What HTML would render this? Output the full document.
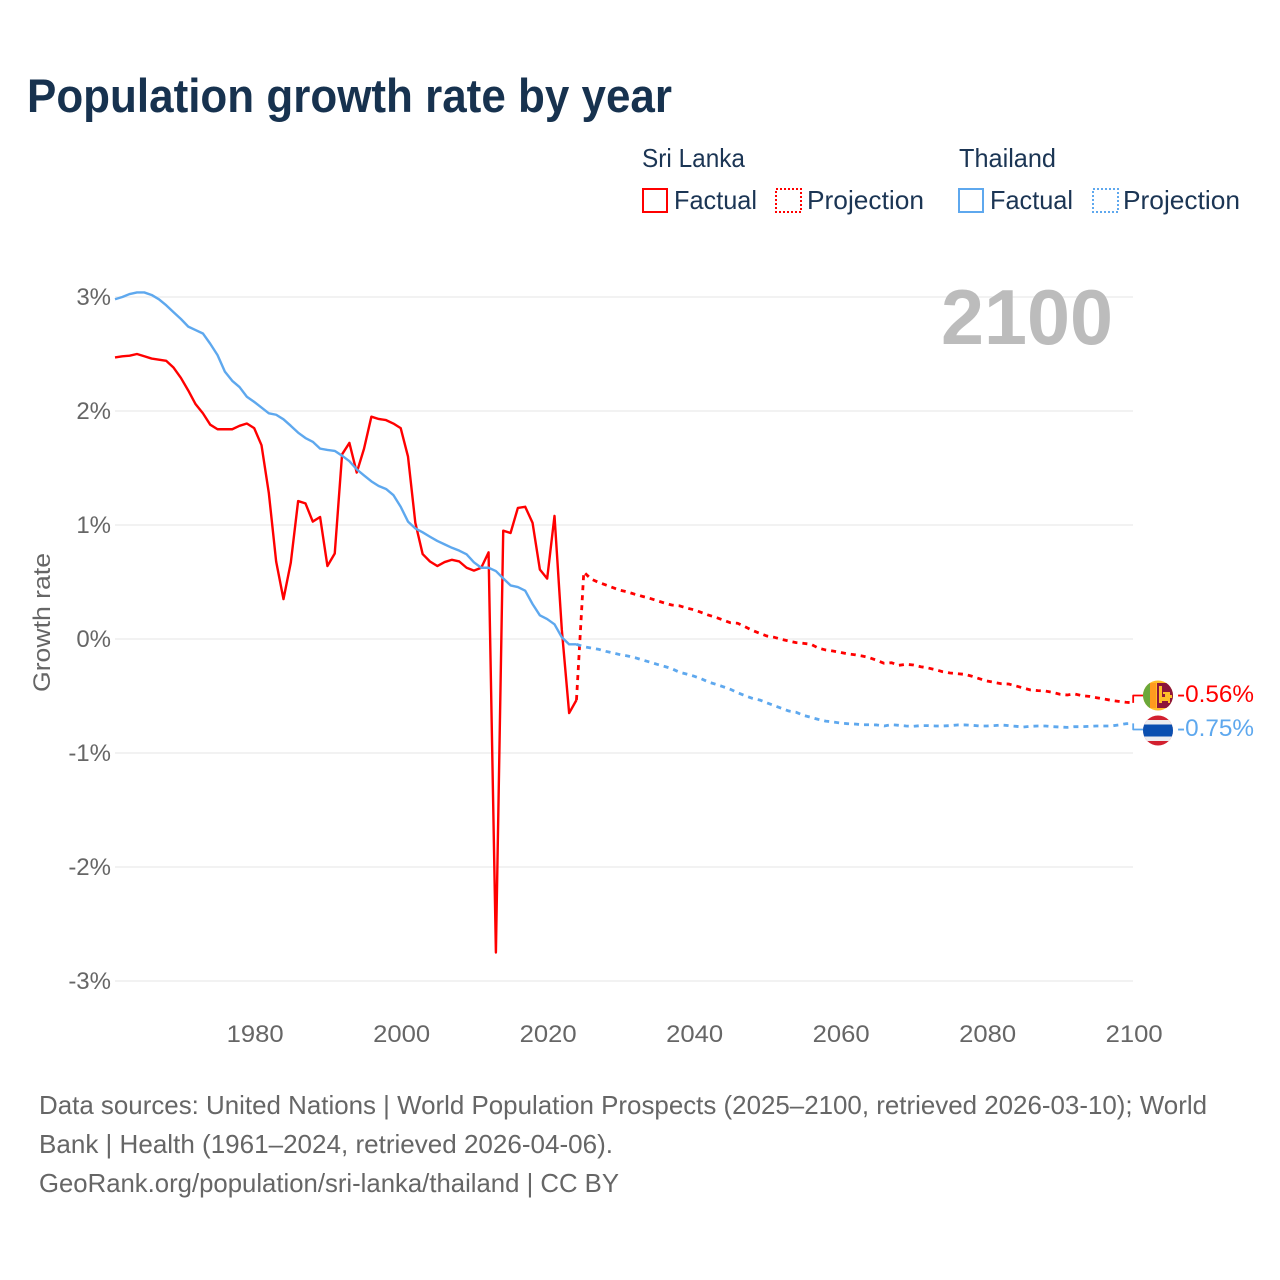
<!DOCTYPE html>
<html lang="en">
<head>
<meta charset="utf-8">
<title>Population growth rate by year</title>
<style>
html,body{margin:0;padding:0;background:#fff;}
svg{display:block;font-family:"Liberation Sans",Arial,sans-serif;}
</style>
</head>
<body>
<svg id="chart" xmlns="http://www.w3.org/2000/svg" width="1280" height="1280" viewBox="0 0 1280 1280">
  <rect x="0" y="0" width="1280" height="1280" fill="#fff"/>
  <text x="27" y="112" font-size="47" font-weight="700" fill="#17324f" textLength="645" lengthAdjust="spacingAndGlyphs">Population growth rate by year</text>

  <text x="642" y="167" font-size="26" fill="#1b3554" textLength="103" lengthAdjust="spacingAndGlyphs">Sri Lanka</text>
  <text x="959" y="167" font-size="26" fill="#1b3554" textLength="97" lengthAdjust="spacingAndGlyphs">Thailand</text>
  <rect x="643" y="189" width="24" height="23" fill="none" stroke="#ff0000" stroke-width="2"/>
  <text x="674" y="209" font-size="26" fill="#1b3554" textLength="83" lengthAdjust="spacingAndGlyphs">Factual</text>
  <rect x="776" y="189" width="25" height="23" fill="none" stroke="#ff0000" stroke-width="2" stroke-dasharray="2 2"/>
  <text x="807" y="209" font-size="26" fill="#1b3554" textLength="117" lengthAdjust="spacingAndGlyphs">Projection</text>
  <rect x="959" y="189" width="24" height="23" fill="none" stroke="#5ea8ee" stroke-width="2"/>
  <text x="990" y="209" font-size="26" fill="#1b3554" textLength="83" lengthAdjust="spacingAndGlyphs">Factual</text>
  <rect x="1093" y="189" width="25" height="23" fill="none" stroke="#5ea8ee" stroke-width="2" stroke-dasharray="2 2"/>
  <text x="1123" y="209" font-size="26" fill="#1b3554" textLength="117" lengthAdjust="spacingAndGlyphs">Projection</text>

  <text transform="translate(50,692) rotate(-90)" x="0" y="0" font-size="24" fill="#666" textLength="139" lengthAdjust="spacingAndGlyphs">Growth rate</text>

  <g id="grid"></g>
  <g id="yticks"></g>
  <g id="xticks"></g>

  <text x="941" y="344" font-size="78" font-weight="700" fill="#bcbcbc" textLength="172" lengthAdjust="spacingAndGlyphs">2100</text>

  <g id="series"></g>

  <defs>
    <clipPath id="flag-clip-lk"><circle cx="1158" cy="695.5" r="15"/></clipPath>
    <clipPath id="flag-clip-th"><circle cx="1158" cy="730.5" r="15"/></clipPath>
  </defs>
  <g clip-path="url(#flag-clip-lk)">
    <rect x="1143" y="680" width="30" height="31" fill="#ffbe29"/>
    <rect x="1143" y="683" width="7" height="25" fill="#6ba83a"/>
    <rect x="1150" y="683" width="6" height="25" fill="#ff9a1f"/>
    <rect x="1157" y="683" width="16" height="25" fill="#8d153a"/>
    <path d="M1159 686h3v11h3v-3h-2v-2h7v3h2v3h-2v5h-2v-2h-6v2h-3z" fill="#ffbe29"/>
  </g>
  <g clip-path="url(#flag-clip-th)">
    <rect x="1143" y="715" width="30" height="31" fill="#d2202f"/>
    <rect x="1143" y="720" width="30" height="21" fill="#ecedf0"/>
    <rect x="1143" y="724.5" width="30" height="12" fill="#0b4fb0"/>
  </g>
  <text id="label-lk" x="1177" y="702" font-size="24" fill="#ff0000" textLength="77" lengthAdjust="spacingAndGlyphs"></text>
  <text id="label-th" x="1177" y="736" font-size="24" fill="#5ea8ee" textLength="77" lengthAdjust="spacingAndGlyphs"></text>

  <g font-size="26" fill="#666">
    <text x="39" y="1114" textLength="1168" lengthAdjust="spacingAndGlyphs">Data sources: United Nations | World Population Prospects (2025–2100, retrieved 2026-03-10); World</text>
    <text x="39" y="1153" textLength="574" lengthAdjust="spacingAndGlyphs">Bank | Health (1961–2024, retrieved 2026-04-06).</text>
    <text x="39" y="1192" textLength="580" lengthAdjust="spacingAndGlyphs">GeoRank.org/population/sri-lanka/thailand | CC BY</text>
  </g>
</svg>
<script>
const yTickValues = [3, 2, 1, 0, -1, -2, -3];
const xTickValues = [1980, 2000, 2020, 2040, 2060, 2080, 2100];
const factualStartYear = 1961;
const projectionStartYear = 2024;
const sriLankaFactual = [
  2.47,2.48,2.485,2.50,2.48,2.46,2.45,2.44,2.38,2.29,
  2.18,2.06,1.98,1.88,1.84,1.84,1.84,1.87,1.89,1.85,
  1.70,1.28,0.68,0.35,0.67,1.21,1.19,1.03,1.07,0.64,
  0.75,1.62,1.72,1.46,1.67,1.95,1.93,1.92,1.89,1.85,
  1.60,1.02,0.745,0.68,0.64,0.675,0.695,0.68,0.625,0.60,
  0.625,0.76,-2.75,0.95,0.93,1.15,1.16,1.02,0.61,0.53,
  1.08,0.08,-0.65,-0.535
];
const thailandFactual = [
  2.98,3.00,3.026,3.04,3.04,3.018,2.98,2.927,2.866,2.807,
  2.74,2.71,2.68,2.59,2.49,2.345,2.265,2.21,2.125,2.08,
  2.03,1.98,1.967,1.927,1.87,1.81,1.763,1.73,1.67,1.658,
  1.65,1.608,1.56,1.488,1.435,1.383,1.342,1.316,1.263,1.16,
  1.03,0.97,0.936,0.897,0.86,0.83,0.80,0.775,0.743,0.673,
  0.625,0.625,0.596,0.532,0.47,0.456,0.424,0.307,0.208,0.175,
  0.129,0.015,-0.047,-0.047
];
const sriLankaProjection = [
  -0.535,0.587,0.526,0.497,0.474,0.45,0.427,0.412,0.392,0.374,
  0.357,0.336,0.316,0.298,0.292,0.272,0.257,0.234,0.21,0.19,
  0.167,0.143,0.138,0.108,0.076,0.05,0.026,0.015,-0.003,-0.018,
  -0.032,-0.038,-0.046,-0.079,-0.096,-0.105,-0.117,-0.13,-0.138,-0.149,
  -0.164,-0.187,-0.213,-0.208,-0.231,-0.222,-0.228,-0.243,-0.254,-0.269,
  -0.287,-0.298,-0.304,-0.31,-0.327,-0.348,-0.368,-0.38,-0.392,-0.395,
  -0.412,-0.43,-0.447,-0.453,-0.456,-0.468,-0.485,-0.491,-0.482,-0.497,
  -0.503,-0.515,-0.526,-0.538,-0.547,-0.555,-0.56
];
const thailandProjection = [
  -0.047,-0.067,-0.079,-0.09,-0.108,-0.123,-0.138,-0.149,-0.164,-0.184,
  -0.202,-0.222,-0.24,-0.26,-0.29,-0.307,-0.325,-0.348,-0.377,-0.397,
  -0.418,-0.441,-0.471,-0.497,-0.52,-0.535,-0.56,-0.585,-0.608,-0.632,
  -0.643,-0.67,-0.687,-0.705,-0.72,-0.728,-0.737,-0.743,-0.746,-0.752,
  -0.752,-0.754,-0.763,-0.752,-0.757,-0.763,-0.766,-0.76,-0.76,-0.763,
  -0.763,-0.76,-0.754,-0.754,-0.757,-0.763,-0.763,-0.76,-0.754,-0.76,
  -0.766,-0.772,-0.766,-0.763,-0.763,-0.769,-0.772,-0.775,-0.769,-0.769,
  -0.766,-0.763,-0.763,-0.763,-0.754,-0.743,-0.74
];
const endValueSriLanka = "-0.56%";
const endValueThailand = "-0.75%";

const NS = "http://www.w3.org/2000/svg";
function xScale(year) { return 115 + (year - 1961) * 7.325; }
function yScale(value) { return 639 - value * 114; }
function linePath(values, startYear) {
  return values.map(function (v, i) {
    return (i ? "L" : "M") + xScale(startYear + i).toFixed(2) + " " + yScale(v).toFixed(2);
  }).join("");
}

const grid = document.getElementById("grid");
const yticks = document.getElementById("yticks");
const xticks = document.getElementById("xticks");
const series = document.getElementById("series");

yTickValues.forEach(function (v) {
  const gl = document.createElementNS(NS, "line");
  
  
  gl.setAttribute("x1", 115);
  gl.setAttribute("x2", 1133);
  gl.setAttribute("y1", yScale(v));
  gl.setAttribute("y2", yScale(v));
  gl.setAttribute("stroke", "#eeeeee");
  gl.setAttribute("stroke-width", 1.5);
  grid.appendChild(gl);
  const t = document.createElementNS(NS, "text");
  
  
  t.setAttribute("x", 111);
  t.setAttribute("y", yScale(v) + 8);
  t.setAttribute("text-anchor", "end");
  t.setAttribute("font-size", 24);
  t.setAttribute("fill", "#666");
  t.textContent = v + "%";
  yticks.appendChild(t);
});

xTickValues.forEach(function (yr) {
  const t = document.createElementNS(NS, "text");
  
  
  t.setAttribute("x", xScale(yr) - 27.5);
  t.setAttribute("y", 1042);
  t.setAttribute("font-size", 24);
  t.setAttribute("fill", "#666");
  t.setAttribute("textLength", 57);
  t.setAttribute("lengthAdjust", "spacingAndGlyphs");
  t.textContent = String(yr);
  xticks.appendChild(t);
});

function addLine(name, d, color, width, dash) {
  const p = document.createElementNS(NS, "path");
  
  
  p.setAttribute("d", d);
  p.setAttribute("fill", "none");
  p.setAttribute("stroke", color);
  p.setAttribute("stroke-width", width);
  p.setAttribute("stroke-linejoin", "round");
  if (dash) p.setAttribute("stroke-dasharray", dash);
  series.appendChild(p);
}

const RED = "#ff0000";
const BLUE = "#5ea8ee";
addLine("sri-lanka-factual-line", linePath(sriLankaFactual, factualStartYear), RED, 2.4);
addLine("sri-lanka-projection-line", linePath(sriLankaProjection, projectionStartYear), RED, 2.8, "5 5");
addLine("thailand-factual-line", linePath(thailandFactual, factualStartYear), BLUE, 2.4);
addLine("thailand-projection-line", linePath(thailandProjection, projectionStartYear), BLUE, 2.8, "5 5");

const lastX = xScale(2100);
const lastRed = yScale(sriLankaProjection[sriLankaProjection.length - 1]);
const lastBlue = yScale(thailandProjection[thailandProjection.length - 1]);
addLine("sri-lanka-end-connector", "M" + lastX + " " + lastRed + "V695.5H1143", RED, 1.8);
addLine("thailand-end-connector", "M" + lastX + " " + lastBlue + "V729.5H1143", BLUE, 1.8);

document.getElementById("label-lk").textContent = endValueSriLanka;
document.getElementById("label-th").textContent = endValueThailand;
</script>
</body>
</html>
